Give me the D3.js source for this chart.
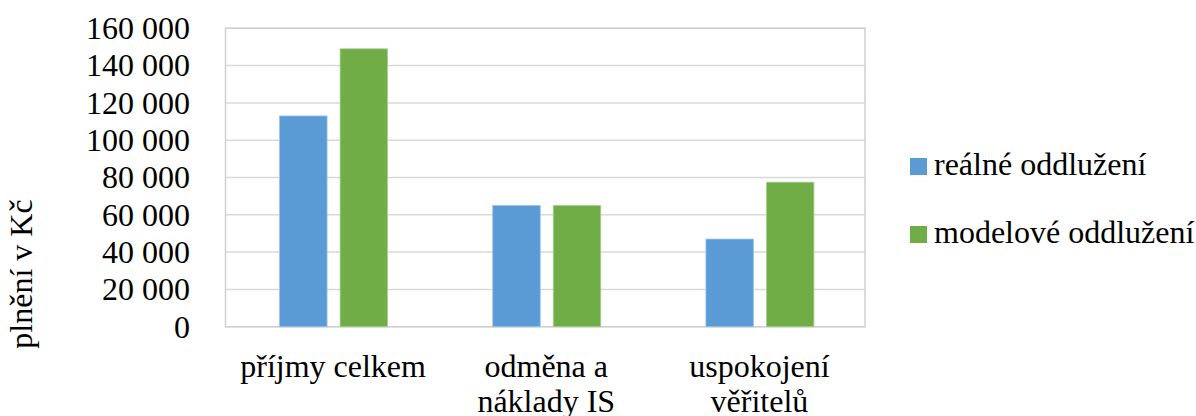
<!DOCTYPE html>
<html>
<head>
<meta charset="utf-8">
<script src="https://cdn.jsdelivr.net/npm/d3@7"></script>
<style>
  body { margin: 0; background: #fff; }
</style>
</head>
<body>
<div id="chart"></div>
<script>
let categories = [["příjmy celkem"], ["odměna a", "náklady IS"], ["uspokojení", "věřitelů"]];
let seriesNames = ["reálné oddlužení", "modelové oddlužení"];
let realne = [113000, 65000, 47000];
let modelove = [149000, 65000, 77500];
let yTicks = [0, 20000, 40000, 60000, 80000, 100000, 120000, 140000, 160000];

let width = 1196;
let height = 416;
let fontSize = 32;
let fontFamily = "'Liberation Serif', 'Times New Roman', Times, 'DejaVu Serif', serif";
let colors = ["#5b9bd5", "#70ad47"];
let strokes = ["#9dc3e6", "#a9d18e"];

let margin = {left: 225.5, right: 1196 - 865, top: 28.3, bottom: 416 - 326.7};

let svg = d3.select("#chart")
    .append("svg")
    .attr("width", width)
    .attr("height", height)
    .attr("font-family", fontFamily)
    .style("font-family", fontFamily);

let x0 = d3.scaleBand()
    .domain(d3.range(categories.length))
    .range([margin.left, width - margin.right]);

let groupW = 108;
let x1 = d3.scaleBand()
    .domain(d3.range(seriesNames.length))
    .range([(x0.bandwidth() - groupW) / 2 + 1.5, (x0.bandwidth() + groupW) / 2 + 1.5])
    .paddingInner(0.215);

let y = d3.scaleLinear()
    .domain([0, 160000])
    .range([height - margin.bottom, margin.top]);

// gridlines
svg.append("g")
    .selectAll("line")
    .data(yTicks)
    .enter().append("line")
    .attr("x1", margin.left)
    .attr("x2", width - margin.right)
    .attr("y1", d => y(d))
    .attr("y2", d => y(d))
    .attr("stroke", "#d9d9d9")
    .attr("stroke-width", 1.5);

// plot border
svg.append("rect")
    .attr("x", margin.left)
    .attr("y", margin.top)
    .attr("width", width - margin.left - margin.right)
    .attr("height", height - margin.top - margin.bottom)
    .attr("fill", "none")
    .attr("stroke", "#d0d0d0")
    .attr("stroke-width", 1.5);

// bars
let data = categories.map((c, i) => [realne[i], modelove[i]]);
let groups = svg.selectAll(".grp")
    .data(data)
    .enter().append("g")
    .attr("class", "grp")
    .attr("transform", (d, i) => "translate(" + x0(i) + ",0)");

groups.selectAll("rect")
    .data(d => d)
    .enter().append("rect")
    .attr("x", (d, j) => x1(j))
    .attr("width", x1.bandwidth())
    .attr("y", d => y(d))
    .attr("height", d => y(0) - y(d))
    .attr("fill", (d, j) => colors[j])
    .attr("stroke", (d, j) => strokes[j])
    .attr("stroke-width", 0.8);

// y tick labels
svg.append("g")
    .selectAll("text")
    .data(yTicks)
    .enter().append("text")
    .attr("x", 190)
    .attr("y", d => y(d))
    .attr("dy", "0.34em")
    .attr("text-anchor", "end")
    .style("font-size", fontSize + "px")
    .text(d => d3.format(",")(d).replace(/,/g, " "));

// category labels
let catText = svg.append("g")
    .selectAll("text")
    .data(categories)
    .enter().append("text")
    .attr("text-anchor", "middle")
    .attr("x", (d, i) => x0(i) + x0.bandwidth() / 2 + 1)
    .attr("y", 376.5)
    .style("font-size", fontSize + "px");

catText.selectAll("tspan")
    .data(d => d)
    .enter().append("tspan")
    .attr("x", function() { return d3.select(this.parentNode).attr("x"); })
    .attr("dy", (d, k) => k === 0 ? 0 : 35)
    .text(d => d);

// y axis title
svg.append("text")
    .attr("transform", "translate(32," + 274 + ") rotate(-90)")
    .attr("text-anchor", "middle")
    .style("font-size", fontSize + "px")
    .text("plnění v Kč");

// legend
let legend = svg.selectAll(".legend")
    .data(seriesNames)
    .enter().append("g")
    .attr("class", "legend")
    .attr("transform", (d, i) => "translate(910," + (175 + i * 68) + ")");

legend.append("rect")
    .attr("x", 0)
    .attr("y", -17)
    .attr("width", 17)
    .attr("height", 17)
    .attr("fill", (d, i) => colors[i]);

legend.append("text")
    .attr("x", 24)
    .attr("y", 0)
    .style("font-size", fontSize + "px")
    .text(d => d);
</script>
</body>
</html>
